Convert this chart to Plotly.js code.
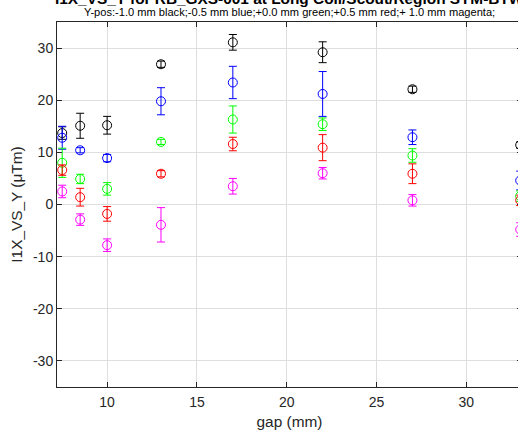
<!DOCTYPE html>
<html>
<head>
<meta charset="utf-8">
<script src="https://cdn.plot.ly/plotly-3.0.1.min.js"></script>
<style>
html,body{margin:0;padding:0;overflow:hidden;background:#fff;}
#chart{width:542px;height:438px;}
</style>
</head>
<body>
<div id="chart"></div>
<script>
// gap positions (mm)
const gap = [7.5, 8.5, 10, 13, 17, 22, 27, 33];

// Y-pos -1.0 mm (black)
const yBlack   = [13.7, 15.1, 15.2, 26.9, 31.1, 29.2, 22.1, 11.4];
const eBlack   = [1.2, 2.4, 1.7, 0.6, 1.5, 2.0, 0.6, 0.6];
// Y-pos -0.5 mm (blue)
const yBlue    = [12.8, 10.4, 8.9, 19.8, 23.4, 21.2, 12.9, 4.6];
const eBlue    = [2.2, 0.5, 0.7, 2.6, 3.1, 4.3, 1.4, 1.8];
// Y-pos +0.0 mm (green)
const yGreen   = [8.0, 4.9, 3.0, 12.0, 16.3, 15.4, 9.4, 1.6];
const eGreen   = [2.8, 0.9, 1.2, 0.5, 2.6, 1.2, 1.3, 1.0];
// Y-pos +0.5 mm (red)
const yRed     = [6.6, 1.4, -1.8, 5.9, 11.6, 10.9, 5.9, 0.8];
const eRed     = [1.0, 1.7, 1.4, 0.6, 1.3, 2.5, 1.9, 1.0];
// Y-pos +1.0 mm (magenta)
const yMagenta = [2.5, -2.9, -7.8, -3.9, 3.5, 6.0, 0.8, -4.8];
const eMagenta = [1.2, 1.1, 1.2, 3.3, 1.5, 1.1, 1.1, 1.3];

const xTicks = [10, 15, 20, 25, 30];
const yTicks = [-30, -20, -10, 0, 10, 20, 30];

const titleText = "I1X_VS_Y for RB_GXS-001 at Long Coil/Scout/Region SYM-BTW";
const subtitleText = "Y-pos:-1.0 mm black;-0.5 mm blue;+0.0 mm green;+0.5 mm red;+ 1.0 mm magenta;";

const series = [
  {y: yBlack, e: eBlack, c: "#000000"},
  {y: yBlue, e: eBlue, c: "#0000ff"},
  {y: yGreen, e: eGreen, c: "#00ff00"},
  {y: yRed, e: eRed, c: "#ff0000"},
  {y: yMagenta, e: eMagenta, c: "#ff00ff"}
];

const traces = series.map(s => ({
  type: "scatter",
  mode: "markers",
  x: gap,
  y: s.y,
  error_y: {type: "data", array: s.e, visible: true, color: s.c, thickness: 1, width: 4},
  marker: {symbol: "circle-open", size: 9, color: s.c, line: {width: 1, color: s.c}},
  showlegend: false,
  cliponaxis: true
}));

const font = "Liberation Sans, Arial, Helvetica, sans-serif";
const axisCol = "#262626";

const layout = {
  width: 542,
  height: 438,
  margin: {l: 57, r: 20, t: 22, b: 51},
  paper_bgcolor: "#ffffff",
  plot_bgcolor: "#ffffff",
  font: {family: font, size: 14, color: axisCol},
  showlegend: false,
  xaxis: {
    range: [7.21, 33.1],
    tickvals: xTicks,
    ticktext: xTicks.map(String),
    ticks: "inside",
    ticklen: 5,
    tickcolor: axisCol,
    showline: true,
    linecolor: axisCol,
    linewidth: 1,
    mirror: "ticks",
    showgrid: true,
    gridcolor: "#dedede",
    gridwidth: 1,
    zeroline: false,
    ticklabelstandoff: 2,
    tickfont: {family: font, size: 14, color: axisCol},
    title: {text: "gap (mm)", font: {family: font, size: 15.4, color: axisCol}, standoff: 7}
  },
  yaxis: {
    range: [-35, 35],
    tickvals: yTicks,
    ticktext: yTicks.map(String),
    ticks: "inside",
    ticklen: 5,
    tickcolor: axisCol,
    showline: true,
    linecolor: axisCol,
    linewidth: 1,
    mirror: "ticks",
    showgrid: true,
    gridcolor: "#dedede",
    gridwidth: 1,
    zeroline: false,
    tickfont: {family: font, size: 14, color: axisCol},
    title: {text: "I1X_VS_Y (μTm)", font: {family: font, size: 15.4, color: axisCol}, standoff: 6}
  },
  annotations: [
    {
      text: "<b>" + titleText + "</b>",
      xref: "paper", yref: "paper",
      x: 0.5, y: 1.0356, xanchor: "center", yanchor: "bottom",
      showarrow: false,
      font: {family: font, size: 15.4, color: "#000000"}
    },
    {
      text: subtitleText,
      xref: "paper", yref: "paper",
      x: 0.5, y: 1.006, xanchor: "center", yanchor: "bottom",
      showarrow: false,
      font: {family: font, size: 11.1, color: "#000000"}
    }
  ]
};

Plotly.newPlot("chart", traces, layout, {displayModeBar: false, staticPlot: true});
</script>
</body>
</html>
